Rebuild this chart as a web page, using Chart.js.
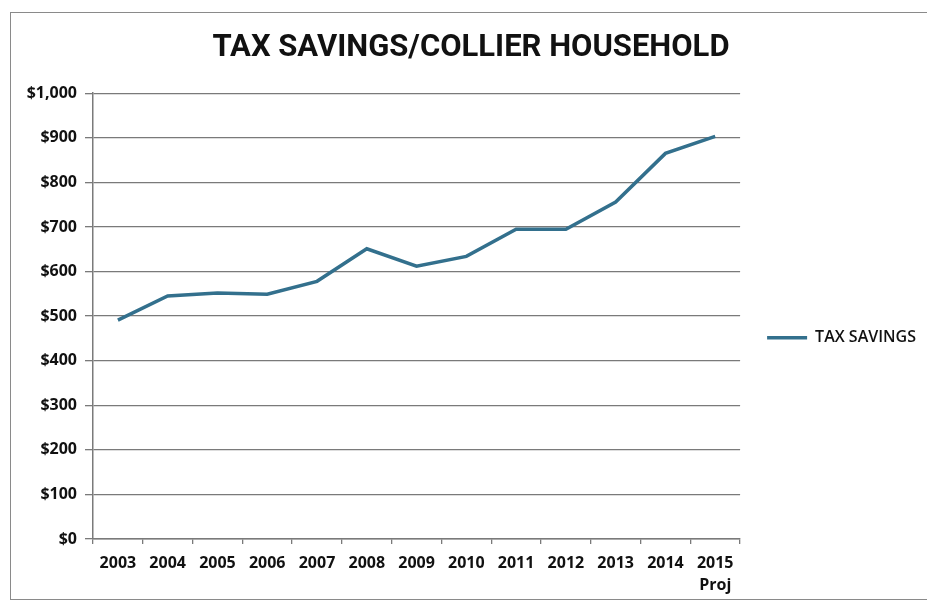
<!DOCTYPE html>
<html>
<head>
<meta charset="utf-8">
<script src="https://cdn.jsdelivr.net/npm/chart.js@4.4.1/dist/chart.umd.min.js"></script>
<style>
  html, body { margin: 0; padding: 0; background: #fff; }
  #wrap { position: relative; width: 927px; height: 603px; overflow: hidden; }
  #frame {
    position: absolute; left: 10px; top: 12px; width: 940px; height: 588px;
    border: 1.5px solid #8a8a8a; box-sizing: border-box;
  }
  #myChart { position: absolute; left: 0; top: 0; }
</style>
</head>
<body>
<div id="wrap">
  <div id="frame"></div>
  <canvas id="myChart" width="927" height="603"></canvas>
</div>
<script>
// yearly tax savings per household, last year is a projection
const years = ["2003", "2004", "2005", "2006", "2007", "2008", "2009", "2010",
               "2011", "2012", "2013", "2014", ["2015", "Proj"]];
const taxSavings = [491, 545, 552, 549, 578, 651, 612, 634, 695, 695, 756, 865, 903];
const seriesName = "TAX SAVINGS";
const chartTitle = "TAX SAVINGS/COLLIER HOUSEHOLD";

const lineColor = "#33708d";
const gridColor = "#7a7a7a";

const ctx = document.getElementById("myChart").getContext("2d");
const myChart = new Chart(ctx, {
    type: "line",
    data: {
        labels: years,
        datasets: [{
            label: seriesName,
            data: taxSavings,
            borderColor: lineColor,
            backgroundColor: lineColor,
            borderWidth: 3.5,
            pointRadius: 0,
            tension: 0,
            fill: false
        }]
    },
    options: {
        responsive: false,
        animation: false,
        devicePixelRatio: 1,
        // left padding nudges the title right, y axis width makes up for it
        layout: { padding: { top: 12, right: 1, bottom: 0, left: 16 } },
        plugins: {
            title: {
                display: true,
                text: chartTitle,
                color: "#111",
                font: { family: "Roboto, sans-serif", size: 31, weight: "bold" },
                padding: { top: 18, bottom: 26 }
            },
            legend: {
                position: "right",
                // empty legend title only pushes the entry down a bit
                title: { display: true, text: " ", padding: { top: 46, bottom: 0 } },
                labels: {
                    usePointStyle: true,
                    pointStyle: "line",
                    pointStyleWidth: 40,
                    color: "#111",
                    font: { family: "'Open Sans', sans-serif", size: 16, weight: "600" },
                    padding: 27
                }
            },
            tooltip: { enabled: false }
        },
        scales: {
            x: {
                offset: true,
                afterFit: (s) => { s.height = 64; },
                grid: {
                    offset: true,
                    drawOnChartArea: false,
                    drawTicks: true,
                    tickLength: 5,
                    color: gridColor,
                    lineWidth: 1.3
                },
                border: { color: gridColor, width: 1.5 },
                ticks: {
                    color: "#111",
                    maxRotation: 0,
                    autoSkip: false,
                    padding: 9,
                    font: { family: "'Open Sans', sans-serif", size: 16, weight: "bold", lineHeight: 1.35 }
                }
            },
            y: {
                min: 0,
                max: 1000,
                afterFit: (s) => { s.width = 77; },
                grid: {
                    color: gridColor,
                    lineWidth: 1.3,
                    tickLength: 8
                },
                border: { color: gridColor, width: 1.5 },
                ticks: {
                    stepSize: 100,
                    color: "#111",
                    padding: 8,
                    font: { family: "'Open Sans', sans-serif", size: 16, weight: "bold" },
                    callback: (v) => "$" + v.toLocaleString("en-US")
                }
            }
        }
    }
});
</script>
</body>
</html>
